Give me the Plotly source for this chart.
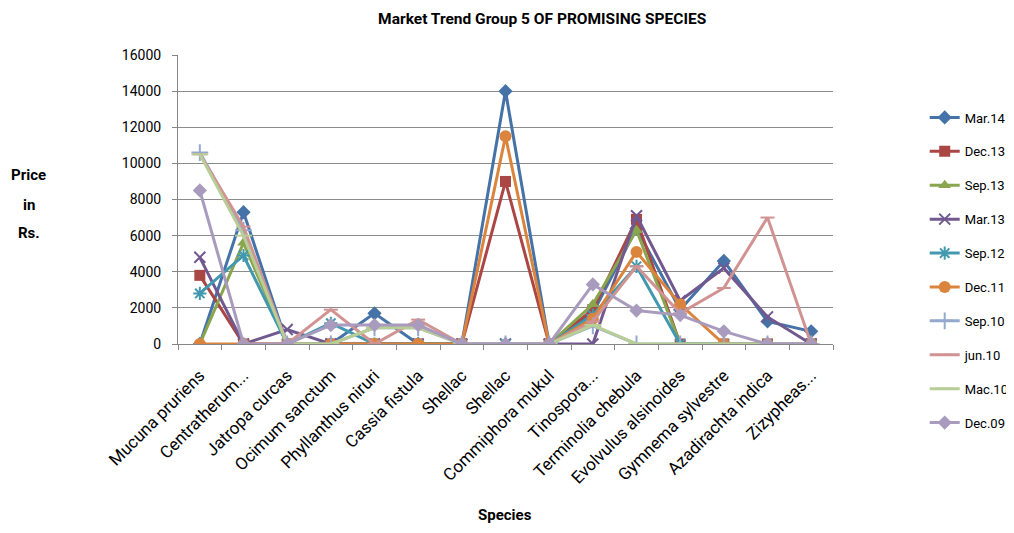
import plotly.graph_objects as go

categories = ["Mucuna pruriens", "Centratherum...", "Jatropa curcas", "Ocimum sanctum",
              "Phyllanthus niruri", "Cassia fistula", "Shellac", "Shellac",
              "Commiphora mukul", "Tinospora...", "Terminolia chebula",
              "Evolvulus alsinoides", "Gymnema sylvestre", "Azadirachta indica", "Zizypheas..."]

mar14 = [0, 7300, 0, 0, 1700, 0, 0, 14000, 0, 1700, 6400, 1900, 4600, 1250, 700]
dec13 = [3800, 0, 0, 0, 0, 0, 0, 9000, 0, 1900, 6900, 0, 0, 0, 0]
sep13 = [0, 5600, 0, 0, 0, 0, 0, 0, 0, 2200, 6300, 0, 0, 0, 0]
mar13 = [4800, 0, 800, 0, 0, 0, 0, 0, 0, 0, 7100, 2400, 4200, 1500, 0]
sep12 = [2800, 4900, 0, 1150, 0, 0, 0, 0, 0, 1600, 4300, 0, 0, 0, 0]
dec11 = [0, 0, 0, 0, 0, 0, 0, 11500, 0, 1400, 5100, 2200, 0, 0, 0]
sep10 = [10600, 6300, 0, 0, 900, 900, 0, 0, 0, 1000, 0, 0, 0, 0, 0]
jun10 = [10500, 6500, 0, 1900, 0, 1350, 0, 0, 0, 1250, 4300, 1700, 3100, 7000, 0]
mac10 = [10500, 6000, 0, 0, 900, 900, 0, 0, 0, 1050, 0, 0, 0, 0, 0]
dec09 = [8500, 0, 0, 1050, 1050, 1050, 0, 0, 0, 3300, 1850, 1600, 700, 0, 0]

series = [
    ("Mar.14", mar14, "#4572A7", "diamond", 11),
    ("Dec.13", dec13, "#AA4643", "square", 11),
    ("Sep.13", sep13, "#89A54E", "triangle-up", 11),
    ("Mar.13", mar13, "#71588F", "x-thin-open", 11),
    ("Sep.12", sep12, "#4198AF", "asterisk-open", 11),
    ("Dec.11", dec11, "#DB843D", "circle", 12),
    ("Sep.10", sep10, "#93A9CF", "cross-thin-open", 12),
    ("jun.10", jun10, "#D19392", "line-ew-open", 10),
    ("Mac.10", mac10, "#B9CD96", "line-ew-open", 12),
    ("Dec.09", dec09, "#A99BBD", "diamond", 11),
]

font = "Roboto, sans-serif"
xs = list(range(len(categories)))

fig = go.Figure()
for i, (name, vals, color, sym, size) in enumerate(series):
    open_sym = sym.endswith("open")
    fig.add_trace(go.Scatter(
        x=xs, y=vals, name=name, mode="lines+markers",
        legendgroup="g%d" % i,
        line=dict(color=color, width=3),
        marker=dict(symbol=sym, size=size, color=color,
                    line=dict(color=color, width=2 if open_sym else 0)),
    ))

fig.update_layout(
    width=1006, height=517,
    paper_bgcolor="white", plot_bgcolor="white",
    margin=dict(l=170, r=181, t=47, b=181, autoexpand=False),
    font=dict(family=font, size=13, color="black"),
    title=dict(text="<b>Market Trend Group 5 OF PROMISING SPECIES</b>",
               xref="paper", x=0.556, xanchor="center",
               yref="container", y=1 - 5 / 517, yanchor="top",
               font=dict(family=font, size=15.5, color="black")),
    showlegend=True,
    legend=dict(x=1.14, y=0.256, xanchor="left", yanchor="middle",
                font=dict(family=font, size=13), tracegroupgap=14,
                itemwidth=30, bgcolor="rgba(0,0,0,0)", maxheight=480),
)

fig.update_xaxes(
    range=[-0.5, len(categories) - 0.5],
    tickvals=xs, ticktext=categories, tickangle=-45,
    ticks="", showgrid=False, zeroline=False, automargin=False,
    showline=True, linecolor="#868686", linewidth=1,
    tickfont=dict(family=font, size=17), ticklabelstandoff=14,
    minor=dict(tick0=0.5, dtick=1, ticks="outside", ticklen=5,
               tickcolor="#868686", showgrid=False),
)
fig.update_yaxes(
    range=[0, 16000], dtick=2000, tickformat="d", automargin=False,
    showgrid=True, gridcolor="#8c8c8c", gridwidth=1,
    zeroline=False, showline=True, linecolor="#868686", linewidth=1,
    ticks="outside", ticklen=5, tickcolor="#868686",
    tickfont=dict(family=font, size=14), ticklabelstandoff=8,
)

for txt, yy in [("Price", 0.585), ("in", 0.481), ("Rs.", 0.384)]:
    fig.add_annotation(text="<b>%s</b>" % txt, xref="paper", yref="paper",
                       x=-0.2275, y=yy, xanchor="center", yanchor="middle",
                       showarrow=False,
                       font=dict(family=font, size=15, color="black"))
fig.add_annotation(text="<b>Species</b>", xref="paper", yref="paper",
                   x=0.499, y=-0.59, xanchor="center", yanchor="middle",
                   showarrow=False,
                   font=dict(family=font, size=15, color="black"))

fig.write_html("out.html")
